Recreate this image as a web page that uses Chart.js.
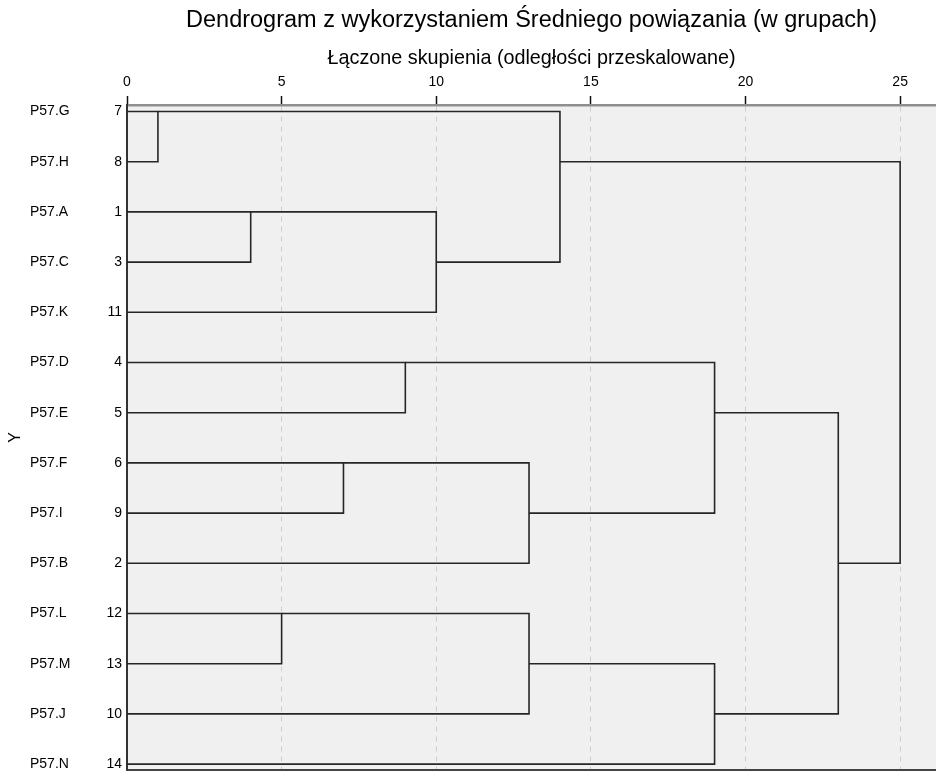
<!DOCTYPE html>
<html>
<head>
<meta charset="utf-8">
<script src="https://cdn.jsdelivr.net/npm/chart.js@4/dist/chart.umd.min.js"></script>
<style>
  html, body { margin: 0; padding: 0; background: #ffffff; }
  #wrap { width: 936px; height: 783px; position: relative; }
</style>
</head>
<body>
<div id="wrap"><canvas id="c"></canvas></div>
<script>
// ---- Data ----
const leafNames   = ['P57.G','P57.H','P57.A','P57.C','P57.K','P57.D','P57.E','P57.F','P57.I','P57.B','P57.L','P57.M','P57.J','P57.N'];
const caseNumbers = [7, 8, 1, 3, 11, 4, 5, 6, 9, 2, 12, 13, 10, 14];
// merges: node ids 0..13 are leaves (row order), new clusters get ids 14, 15, ...
const mergeA      = [0, 2, 10, 7, 5, 15, 17, 16, 14, 18, 21, 23, 22];
const mergeB      = [1, 3, 11, 8, 6,  4,  9, 12, 19, 20, 13, 24, 25];
const mergeHeight = [1, 4,  5, 7, 9, 10, 13, 13, 14, 19, 19, 23, 25];
const xTicks      = [0, 5, 10, 15, 20, 25];

const titleText    = 'Dendrogram z wykorzystaniem Średniego powiązania (w grupach)';
const subtitleText = 'Łączone skupienia (odległości przeskalowane)';
const yTitleText   = 'Y';

// ---- Build line datasets (one bracket per merge) ----
const nodeRow = leafNames.map((_, i) => i);
const nodeH   = leafNames.map(() => 0);
const datasets = [];
mergeA.forEach((a, k) => {
  const b = mergeB[k], h = mergeHeight[k];
  const ra = nodeRow[a], rb = nodeRow[b];
  datasets.push({
    data: [
      { x: nodeH[a], y: ra },
      { x: h, y: ra },
      { x: h, y: rb },
      { x: nodeH[b], y: rb }
    ],
    showLine: true,
    borderColor: '#262626',
    borderWidth: 1.6,
    pointRadius: 0,
    tension: 0,
    fill: false,
    xAxisID: 'x',
    yAxisID: 'y'
  });
  nodeRow.push(Math.floor((ra + rb) / 2));
  nodeH.push(h);
});

const FONT = "'Liberation Sans', Arial, sans-serif";
const yMin = -0.13, yMax = 13.11;

const bgPlugin = {
  id: 'plotBg',
  beforeDraw(chart) {
    const { ctx, chartArea: a } = chart;
    ctx.save();
    ctx.fillStyle = '#f0f0f0';
    ctx.fillRect(a.left, a.top, a.right - a.left, a.bottom - a.top);
    ctx.restore();
  }
};

new Chart(document.getElementById('c'), {
  type: 'scatter',
  data: { datasets },
  plugins: [bgPlugin],
  options: {
    responsive: true,
    maintainAspectRatio: false,
    animation: false,
    layout: { padding: { left: 0, right: 0, top: 0, bottom: 4 } },
    plugins: {
      legend: { display: false },
      tooltip: { enabled: false },
      title: {
        display: true,
        text: titleText,
        fullSize: false,
        color: '#000',
        font: { family: FONT, size: 23.5, weight: 'normal', lineHeight: 1.2 },
        padding: { top: 6, bottom: 9.8 }
      }
    },
    scales: {
      x: {
        type: 'linear',
        position: 'top',
        min: 0,
        max: 26.16,
        afterBuildTicks(scale) { scale.ticks = xTicks.map(v => ({ value: v })); },
        afterFit(scale) { scale.height = 61; },
        ticks: { color: '#000', font: { family: FONT, size: 14 }, padding: 5, includeBounds: false },
        grid: { color: '#cdcdcd', lineWidth: 1, tickLength: 9, tickColor: '#111', tickWidth: 1.5 },
        border: { display: true, color: '#8f8f8f', width: 2.5, dash: [5, 5] },
        title: {
          display: true,
          text: subtitleText,
          color: '#000',
          font: { family: FONT, size: 19.8 },
          padding: { top: 2.2, bottom: 0 }
        }
      },
      xBottom: {
        type: 'linear',
        position: 'bottom',
        min: 0,
        max: 26.16,
        ticks: { display: false },
        grid: { display: false, drawTicks: false },
        border: { display: true, color: '#444', width: 2 }
      },
      yTitle: {
        type: 'linear',
        position: 'left',
        weight: 3,
        reverse: true,
        min: yMin,
        max: yMax,
        afterFit(scale) { scale.width = 30; },
        ticks: { display: false },
        grid: { display: false, drawTicks: false },
        border: { display: false },
        title: { display: true, text: yTitleText, color: '#000', font: { family: FONT, size: 16 }, padding: { top: 6, bottom: 0 } }
      },
      yName: {
        type: 'linear',
        position: 'left',
        weight: 2,
        reverse: true,
        min: yMin,
        max: yMax,
        afterBuildTicks(scale) { scale.ticks = leafNames.map((_, i) => ({ value: i })); },
        afterFit(scale) { scale.width = 69; },
        ticks: {
          crossAlign: 'far',
          color: '#000',
          font: { family: FONT, size: 14 },
          autoSkip: false,
          callback: (v) => leafNames[v]
        },
        grid: { display: false, drawTicks: false },
        border: { display: false }
      },
      y: {
        type: 'linear',
        position: 'left',
        weight: 1,
        reverse: true,
        min: yMin,
        max: yMax,
        afterBuildTicks(scale) { scale.ticks = caseNumbers.map((_, i) => ({ value: i })); },
        afterFit(scale) { scale.width = 28; },
        ticks: {
          color: '#000',
          font: { family: FONT, size: 14 },
          padding: 5,
          autoSkip: false,
          callback: (v) => caseNumbers[v]
        },
        grid: { display: false, drawTicks: false },
        border: { display: true, color: '#333', width: 2 }
      }
    }
  }
});
</script>
</body>
</html>
